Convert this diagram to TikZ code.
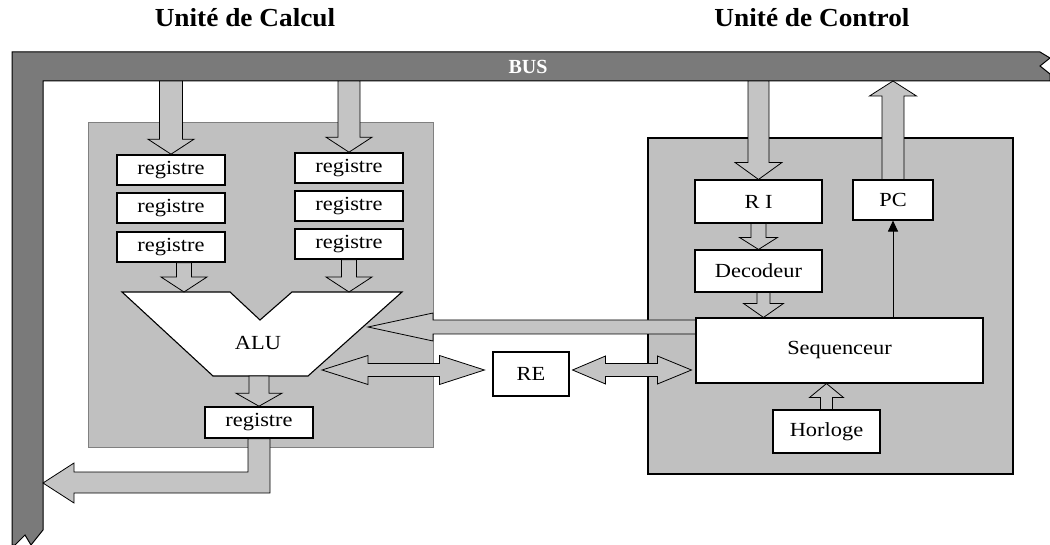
\documentclass[tikz,border=0pt]{standalone}
\usepackage{fontspec}
\setmainfont{Liberation Serif}
\usetikzlibrary{calc,arrows.meta}

\definecolor{busgray}{HTML}{7A7A7A}
\definecolor{unitgray}{HTML}{C0C0C0}
\definecolor{arrowgray}{HTML}{C4C4C4}

\newcommand\txt{\fontsize{20}{23}\selectfont}
\newcommand\wide[1]{\scalebox{1.12}[1]{#1}}

\tikzset{
  reg/.style={draw=black, line width=1.6pt, fill=white, minimum width=108pt,
              minimum height=30pt, inner sep=0pt, font=\txt},
  unitbox/.style={draw=black, line width=1.1pt, fill=white, inner sep=0pt, font=\txt},
  blk/.style={draw=black, line width=0.8pt, fill=arrowgray, line join=miter},
  title/.style={font=\fontsize{26}{30}\selectfont\bfseries},
}

% vertical block arrow: tail at y of #1, tip at #2
\newcommand\vblock[5]{%
  \draw[blk] let \p1=(#1), \p2=(#2), \n1={ifthenelse(\y2<\y1,1,-1)} in
    (\x2-#3,\y1) -- (\x2-#3,\y2+\n1*#5) -- (\x2-#4,\y2+\n1*#5) -- (\x2,\y2) --
    (\x2+#4,\y2+\n1*#5) -- (\x2+#3,\y2+\n1*#5) -- (\x2+#3,\y1) -- cycle;}
% horizontal block arrow: tail at x of #1, tip at #2
\newcommand\hblock[5]{%
  \draw[blk] let \p1=(#1), \p2=(#2), \n1={ifthenelse(\x2>\x1,1,-1)} in
    (\x1,\y2-#3) -- (\x2-\n1*#5,\y2-#3) -- (\x2-\n1*#5,\y2-#4) -- (\x2,\y2) --
    (\x2-\n1*#5,\y2+#4) -- (\x2-\n1*#5,\y2+#3) -- (\x1,\y2+#3) -- cycle;}
% horizontal double block arrow between tips #1 and #2
\newcommand\hdouble[6]{%
  \draw[blk] let \p1=(#1), \p2=(#2), \n1={ifthenelse(\x2>\x1,1,-1)} in
    (\x1,\y1) -- (\x1+\n1*#5,\y1+#4) -- (\x1+\n1*#5,\y1+#3) -- (\x2-\n1*#6,\y1+#3) --
    (\x2-\n1*#6,\y1+#4) -- (\x2,\y1) -- (\x2-\n1*#6,\y1-#4) -- (\x2-\n1*#6,\y1-#3) --
    (\x1+\n1*#5,\y1-#3) -- (\x1+\n1*#5,\y1-#4) -- cycle;}

\begin{document}
\begin{tikzpicture}[x=1pt,y=-1pt]
\useasboundingbox (0,0) rectangle (1050,545);

% titles
\node[title] (tcalc) at (245,18) {\scalebox{1.05}[1]{Unité de Calcul}};
\node[title] (tctrl) at (812,18) {\scalebox{1.05}[1]{Unité de Control}};

% the bus, broken at both ends
\draw[fill=busgray, line width=1pt, line join=miter]
  (12,52) -- (1040,52) -- (1050,58) -- (1040,66) -- (1050,74) -- (1050,81)
  -- (43,81) -- (43,530) -- (31,545) -- (25,535) -- (15,545) -- (12,545) -- cycle;
\node[text=white, font=\fontsize{20}{24}\selectfont\bfseries] (bus) at (528,67) {BUS};
\coordinate (busin) at (0,81);
\coordinate (busleft) at (43,483);

% the two units
\draw[fill=unitgray, draw=gray, line width=0.6pt] (88,122) rectangle (433,447);
\draw[fill=unitgray, draw=black, line width=1.5pt] (648,138) rectangle (1013,474);

% calculation unit
\node[reg] (l1) at (171,170) {\wide{registre}};
\node[reg] (l2) at (171,208) {\wide{registre}};
\node[reg] (l3) at (171,247) {\wide{registre}};
\node[reg] (r1) at (349,168) {\wide{registre}};
\node[reg] (r2) at (349,206) {\wide{registre}};
\node[reg] (r3) at (349,244) {\wide{registre}};
\node[reg, minimum height=31pt] (out) at (259,422.5) {\wide{registre}};

\coordinate (aluA) at (122,292);
\coordinate (aluB) at (230,292);
\coordinate (aluV) at (260,320);
\coordinate (aluC) at (292,292);
\coordinate (aluD) at (402,292);
\coordinate (aluE) at (308,376);
\coordinate (aluF) at (213,376);
\draw[fill=white, line width=1.1pt, line join=miter]
  (aluA) -- (aluB) -- (aluV) -- (aluC) -- (aluD) -- (aluE) -- (aluF) -- cycle;
\node[font=\txt] (alu) at (258,343) {\wide{ALU}};
\coordinate (aluright) at (368,327);
\coordinate (aluio) at (322,370);

\vblock{l1.north |- busin}{l1.north}{11.5pt}{23pt}{15pt}
\vblock{r1.north |- busin}{r1.north}{11pt}{23pt}{15pt}
\vblock{l3.south}{$(l3.south |- aluB)+(13,0)$}{7.5pt}{23pt}{15pt}
\vblock{r3.south}{r3.south |- aluD}{7.5pt}{23pt}{15pt}
\vblock{aluF -| out.north}{out.north}{10pt}{23pt}{13pt}

% result back to the bus
\draw[blk] let \p1=(out.south), \p2=(busleft) in
  (\x1-11pt,\y1) -- (\x1-11pt,\y2+11pt) -- (\x2+31pt,\y2+11pt) -- (\x2+31pt,\y2+20pt)
  -- (\x2,\y2) -- (\x2+31pt,\y2-20pt) -- (\x2+31pt,\y2-10pt) -- (\x1+11pt,\y2-10pt)
  -- (\x1+11pt,\y1) -- cycle;

% control unit
\node[unitbox, minimum width=127pt, minimum height=43pt] (ri) at (758.5,201.5) {\wide{R I}};
\node[unitbox, minimum width=80pt, minimum height=40pt] (pc) at (893,200) {\wide{PC}};
\node[unitbox, minimum width=127pt, minimum height=42pt] (dec) at (758.5,271) {\wide{Decodeur}};
\node[unitbox, minimum width=107pt, minimum height=43pt] (clk) at (826.5,431.5) {\wide{Horloge}};
\node[unitbox, minimum width=76pt, minimum height=44pt] (re) at (531,374) {\wide{RE}};

% sequencer to ALU (drawn under the sequencer box)
\hblock{$(aluright)+(328,0)$}{aluright}{7pt}{14pt}{65pt}
\node[unitbox, minimum width=287pt, minimum height=65pt] (seq) at (839.5,350.5) {\wide{Sequenceur}};

\vblock{ri.north |- busin}{ri.north}{10.5pt}{23.5pt}{17pt}
\vblock{pc.north}{pc.north |- busin}{11pt}{23.5pt}{15pt}
\vblock{ri.south}{dec.north}{7.5pt}{19pt}{12pt}
\vblock{$(dec.south)+(5,0)$}{$(seq.north -| dec.south)+(5,0)$}{6.5pt}{20pt}{14pt}
\vblock{clk.north}{seq.south -| clk.north}{6pt}{17pt}{14pt}

\hdouble{aluio}{$(re.west)+(-8,-4)$}{6.5pt}{14.5pt}{46pt}{45pt}
\hdouble{$(re.east)+(3,-4)$}{$(seq.west)+(-4,20)$}{6.5pt}{14pt}{33pt}{34pt}

\draw[line width=1pt, -{Triangle[length=11pt,width=10pt]}]
  (pc.south |- seq.north) -- (pc.south);
\end{tikzpicture}
\end{document}
